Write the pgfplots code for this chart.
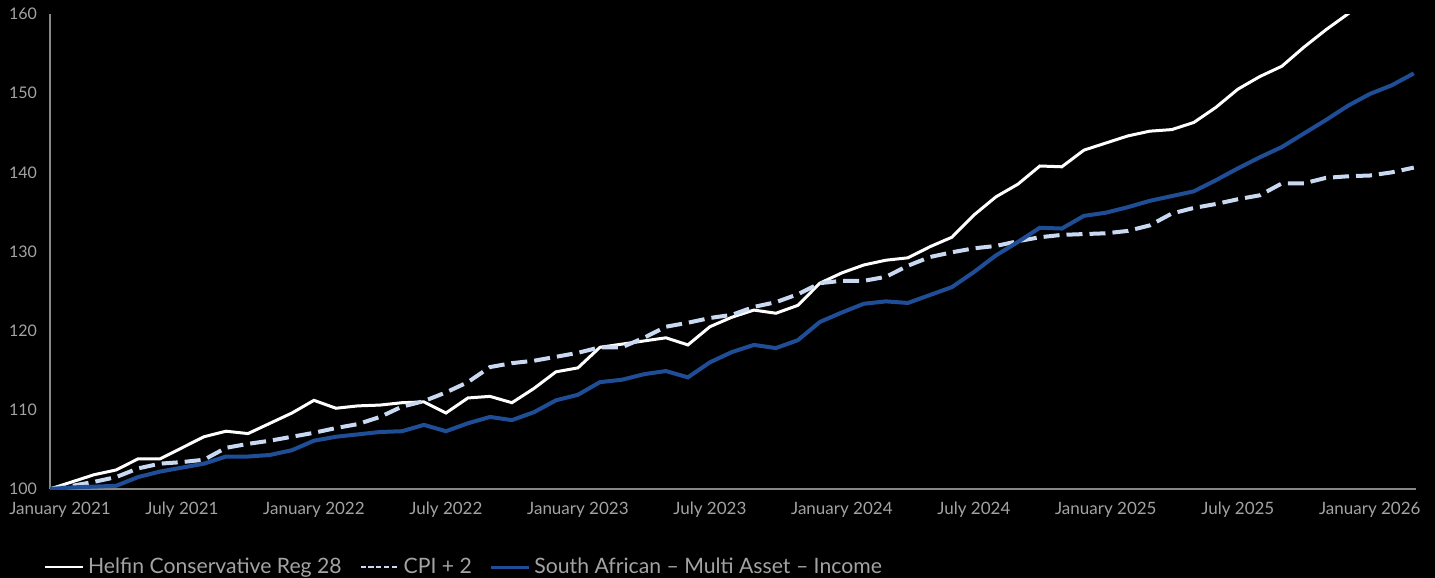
\documentclass[border=0pt]{standalone}
\usepackage{fontspec}
\setmainfont{Lato}
\usepackage{pgfplots}
\pgfplotsset{compat=1.18}
\usepackage{pgfplotstable}
\usetikzlibrary{backgrounds}

\definecolor{txtgray}{HTML}{A3A3A3}
\definecolor{axgray}{HTML}{858985}
\definecolor{cpiblue}{HTML}{C9D9F1}
\definecolor{sablue}{HTML}{1F4E96}

% month index (0 = January 2021), fund, CPI + 2, peer group
\pgfplotstableread{
i  helfin cpi   sa
0  100.0  100.0 100.0
1  100.9  100.4 100.2
2  101.8  100.9 100.3
3  102.4  101.5 100.4
4  103.8  102.6 101.5
5  103.8  103.2 102.2
6  105.2  103.4 102.7
7  106.6  103.7 103.2
8  107.3  105.2 104.1
9  107.0  105.7 104.1
10 108.3  106.1 104.3
11 109.6  106.6 104.9
12 111.2  107.1 106.1
13 110.2  107.7 106.6
14 110.5  108.2 106.9
15 110.6  109.1 107.2
16 110.9  110.4 107.3
17 111.0  111.1 108.1
18 109.6  112.2 107.3
19 111.5  113.5 108.3
20 111.7  115.4 109.1
21 110.9  115.9 108.7
22 112.7  116.2 109.7
23 114.8  116.7 111.2
24 115.3  117.2 111.9
25 117.9  117.9 113.5
26 118.3  117.9 113.8
27 118.7  119.1 114.5
28 119.1  120.5 114.9
29 118.2  121.0 114.1
30 120.5  121.6 116.0
31 121.7  122.0 117.3
32 122.6  123.0 118.2
33 122.2  123.6 117.8
34 123.2  124.6 118.8
35 126.0  126.0 121.1
36 127.3  126.3 122.3
37 128.3  126.3 123.4
38 128.9  126.8 123.7
39 129.2  128.2 123.5
40 130.6  129.3 124.5
41 131.8  129.9 125.5
42 134.6  130.4 127.4
43 136.9  130.7 129.5
44 138.5  131.3 131.2
45 140.8  131.8 133.0
46 140.7  132.1 132.9
47 142.8  132.2 134.5
48 143.7  132.3 134.9
49 144.6  132.6 135.6
50 145.2  133.3 136.4
51 145.4  134.8 137.0
52 146.3  135.5 137.6
53 148.2  136.0 139.0
54 150.5  136.6 140.5
55 152.1  137.1 141.9
56 153.4  138.6 143.2
57 155.8  138.6 144.9
58 158.0  139.3 146.6
59 160.0  139.5 148.4
60 162.2  139.6 149.9
61 164.0  140.0 151.0
62 165.8  140.6 152.5
}\perf

\begin{document}
\begin{tikzpicture}
\begin{axis}[
    scale only axis,
    width=683pt, height=237.5pt,
    xmin=0, xmax=62.1,
    ymin=100, ymax=160,
    ytick={100,110,...,160},
    xtick={0,6,...,60},
    xticklabels={\hspace{10pt}January 2021, July 2021, January 2022, July 2022, January 2023, July 2023,
                 January 2024, July 2024, January 2025, July 2025, January 2026},
    axis lines*=left,
    axis line style={-, draw=axgray, line width=1.3pt},
    major tick length=0pt,
    ticklabel style={text=txtgray},
    /pgf/number format/assume math mode=true,
    xticklabel style={font=\fontsize{8.5}{10}\selectfont, yshift=-3pt},
    yticklabel style={font=\fontsize{8}{10}\selectfont, xshift=-3pt},
    legend columns=3,
    legend style={at={(-0.009,-0.165)}, anchor=west, draw=none, fill=none,
                  text=txtgray, font=\fontsize{10.6}{12}\selectfont,
                  /tikz/every even column/.append style={column sep=7pt}},
    legend cell align=left,
    legend image code/.code={\draw[#1] (0pt,0pt) -- (19pt,0pt);},
]
\addplot[white, line width=1.5pt, forget plot] table[x=i, y=helfin] {\perf};
\addplot[cpiblue, line width=2pt, dash pattern=on 8pt off 3.5pt, forget plot] table[x=i, y=cpi] {\perf};
\addplot[sablue, line width=2pt, forget plot] table[x=i, y=sa] {\perf};
\addlegendimage{white, line width=1pt}
\addlegendentry{Helfin Conservative Reg 28}
\addlegendimage{cpiblue, line width=1pt, dash pattern=on 2.6pt off 1.3pt}
\addlegendentry{CPI + 2}
\addlegendimage{sablue, line width=1.2pt}
\addlegendentry{South African – Multi Asset – Income}
\end{axis}
\begin{scope}[on background layer]
\fill[black] (-25pt,-44.5pt) rectangle (692.5pt,244.5pt);
\end{scope}
\pgfresetboundingbox
\useasboundingbox (-25pt,-44.5pt) rectangle (692.5pt,244.5pt);
\end{tikzpicture}
\end{document}
